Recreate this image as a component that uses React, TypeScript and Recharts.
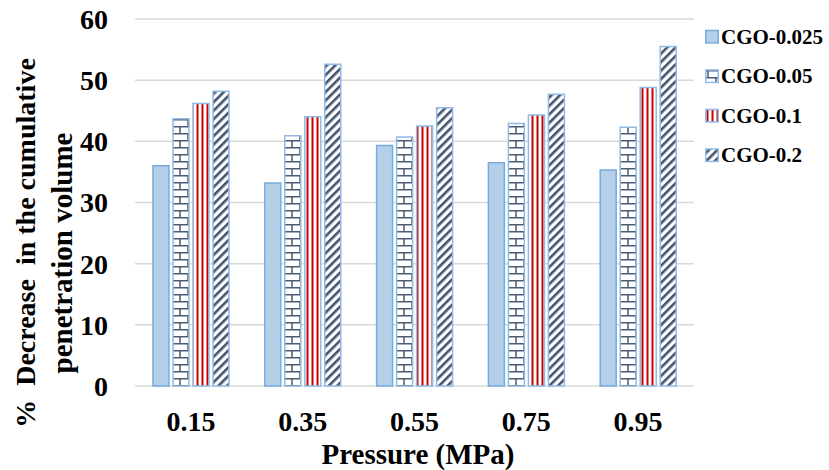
import { BarChart, Bar, XAxis, YAxis, CartesianGrid, Label } from 'recharts';

const pressures = ['0.15', '0.35', '0.55', '0.75', '0.95'];
const cgo0025 = [36.0, 33.2, 39.3, 36.5, 35.3];
const cgo005 = [43.7, 40.9, 40.7, 42.9, 42.3];
const cgo01 = [46.2, 44.0, 42.5, 44.3, 48.8];
const cgo02 = [48.2, 52.6, 45.5, 47.7, 55.5];
const yTicks = [0, 10, 20, 30, 40, 50, 60];

const SERIES = [
  { key: 'cgo0025', name: 'CGO-0.025', fill: '#b4cfea', stroke: '#78abdc' },
  { key: 'cgo005', name: 'CGO-0.05', fill: 'url(#brick)', stroke: '#8fbbe6' },
  { key: 'cgo01', name: 'CGO-0.1', fill: 'url(#redStripes)', stroke: '#8fbbe6' },
  { key: 'cgo02', name: 'CGO-0.2', fill: 'url(#diagonal)', stroke: '#8fbbe6' },
];

const FONT = '"Liberation Serif", "Times New Roman", serif';

const chartData = pressures.map((p, i) => ({
  pressure: p,
  cgo0025: cgo0025[i],
  cgo005: cgo005[i],
  cgo01: cgo01[i],
  cgo02: cgo02[i],
}));

const Patterns = () => (
  <defs>
    <pattern id="brick" width="16" height="14" patternUnits="userSpaceOnUse">
      <rect width="16" height="14" fill="#fff" />
      <path d="M0 0.75H16 M0 7.75H16 M4 0.75V7.75 M12 7.75V14" stroke="#4b5b72" strokeWidth="1.5" fill="none" />
    </pattern>
    <pattern id="redStripes" width="5" height="10" patternUnits="userSpaceOnUse">
      <rect width="5" height="10" fill="#fff" />
      <rect x="1.5" width="2" height="10" fill="#c80000" />
    </pattern>
    <pattern id="diagonal" width="6" height="6" patternUnits="userSpaceOnUse" patternTransform="rotate(45)">
      <rect width="6" height="6" fill="#fff" />
      <rect width="2.6" height="6" fill="#44546a" />
    </pattern>
  </defs>
);

// legend drawn inside the svg so it doesn't eat into the plot area
const SeriesLegend = () => (
  <g fontFamily={FONT} fontWeight="bold" fontSize={21} fill="#000">
    {SERIES.map((s, i) => {
      const cy = 36.7 + i * 39.5;
      return (
        <g key={s.key}>
          <rect x={705.75} y={cy - 6.25} width={12.5} height={12.5} fill={s.fill} stroke={s.stroke} strokeWidth={1.5} />
          <text x={721} y={cy + 7}>{s.name}</text>
        </g>
      );
    })}
  </g>
);

const yTitle = () => (
  <g fontFamily={FONT} fontWeight="bold" fill="#000">
    <text x={35} y={243} fontSize={28} textAnchor="middle" transform="rotate(-90, 35, 243)" xmlSpace="preserve">
      %  Decrease  in the cumulative
    </text>
    <text x={72} y={253} fontSize={29} textAnchor="middle" transform="rotate(-90, 72, 253)">
      penetration volume
    </text>
  </g>
);

const xTitle = () => (
  <text x={418} y={464} textAnchor="middle" fontFamily={FONT} fontWeight="bold" fontSize={29} fill="#000">
    Pressure (MPa)
  </text>
);

export default function App() {
  return (
    <div style={{ position: 'absolute', left: 0, top: 0, background: '#fff' }}>
      <BarChart
        width={829}
        height={470}
        data={chartData}
        margin={{ top: 19, right: 135, bottom: 54, left: 75 }}
        barSize={16}
        barGap={4}
      >
        <Patterns />
        <CartesianGrid vertical={false} stroke="#d9d9d9" strokeWidth={1.5} />
        <XAxis
          dataKey="pressure"
          height={30}
          axisLine={false}
          tickLine={false}
          tickSize={0}
          tickMargin={25}
          tick={{ fontFamily: FONT, fontWeight: 'bold', fontSize: 28, fill: '#000' }}
        >
          <Label content={xTitle} />
        </XAxis>
        <YAxis
          width={60}
          domain={[0, 60]}
          ticks={yTicks}
          axisLine={false}
          tickLine={false}
          tickSize={0}
          tickMargin={27}
          tick={{ fontFamily: FONT, fontWeight: 'bold', fontSize: 28, fill: '#000' }}
        >
          <Label content={yTitle} />
        </YAxis>
        {SERIES.map((s) => (
          <Bar
            key={s.key}
            dataKey={s.key}
            name={s.name}
            fill={s.fill}
            stroke={s.stroke}
            strokeWidth={1.5}
            isAnimationActive={false}
          />
        ))}
        <SeriesLegend />
      </BarChart>
    </div>
  );
}
